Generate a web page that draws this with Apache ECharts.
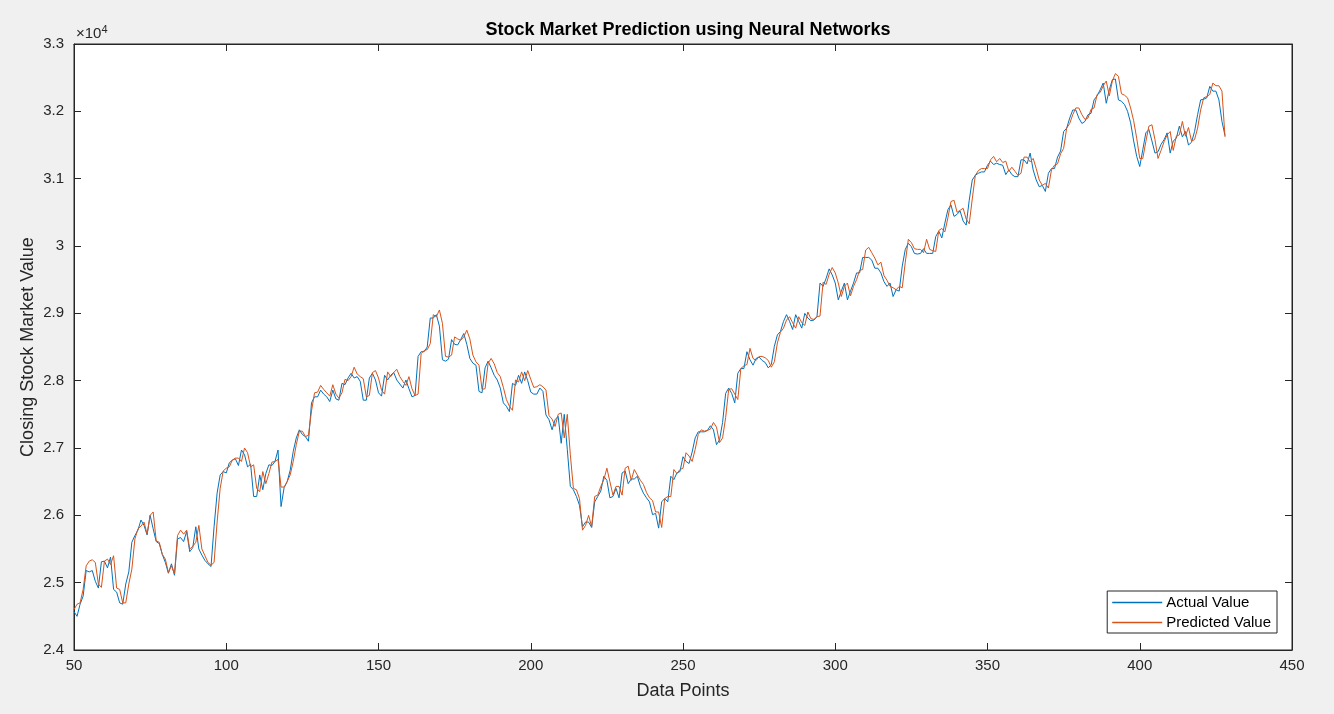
<!DOCTYPE html>
<html>
<head>
<meta charset="utf-8">
<script src="https://cdn.jsdelivr.net/npm/echarts@6/dist/echarts.min.js"></script>
<style>
html,body{margin:0;padding:0;background:#f0f0f0;}
#chart{width:1334px;height:714px;}
</style>
</head>
<body>
<div id="chart"></div>
<script>
const titleText = 'Stock Market Prediction using Neural Networks';
const xName = 'Data Points';
const yName = 'Closing Stock Market Value';
const seriesNames = ['Actual Value', 'Predicted Value'];
const firstPoint = 50;
const xTicks = [50, 100, 150, 200, 250, 300, 350, 400, 450];
const yTicks = [24000, 25000, 26000, 27000, 28000, 29000, 30000, 31000, 32000, 33000];

const actual = [
24570,24500,24680,24800,25180,25160,25180,25020,24920,25310,
25320,25220,25380,24900,24860,24700,24680,24980,25160,25600,
25700,25780,25930,25850,25710,26000,25800,25610,25580,25420,
25300,25140,25280,25110,25650,25670,25610,25760,25460,25520,
25830,25500,25410,25330,25280,25240,25830,26330,26600,26650,
26630,26780,26820,26840,26740,26970,26900,26720,26760,26280,
26280,26600,26380,26620,26750,26740,26800,26970,26130,26410,
26500,26670,26950,27150,27270,27200,27170,27100,27670,27760,
27760,27860,27800,27760,27690,27860,27730,27710,27960,27940,
28040,28110,28040,28060,27990,27710,27710,28040,28110,28010,
27820,27770,28080,28010,28080,28120,28010,27950,27890,28010,
27880,27760,27780,28360,28430,28430,28500,28930,28930,28980,
28810,28310,28290,28320,28610,28540,28530,28610,28700,28540,
28330,28260,28230,27840,27820,28190,28290,28190,28080,28010,
27890,27670,27620,27540,27960,27930,28080,27960,28130,28000,
27830,27800,27800,27890,27840,27490,27420,27270,27420,27470,
27070,27500,26980,26430,26380,26280,26150,25830,25900,25900,
25820,26200,26280,26360,26580,26520,26260,26280,26400,26260,
26630,26660,26470,26540,26540,26580,26430,26330,26260,26200,
26010,26030,25810,26200,26250,26200,26580,26530,26630,26650,
26870,26800,26770,26940,27150,27240,27240,27240,27260,27330,
27270,27050,27120,27380,27810,27890,27810,27670,28110,28180,
28180,28430,28310,28230,28330,28350,28300,28270,28190,28240,
28510,28680,28730,28880,28980,28880,28760,28980,28880,28780,
29000,28930,28890,28900,28950,29450,29400,29520,29660,29570,
29450,29200,29330,29450,29200,29330,29450,29600,29600,29830,
29830,29830,29790,29670,29670,29600,29470,29400,29450,29250,
29350,29330,29700,29950,30040,29990,29890,29880,29890,29960,
29890,29890,29890,30140,30220,30120,30340,30540,30610,30440,
30470,30520,30370,30310,30680,30980,31050,31080,31100,31100,
31200,31260,31210,31230,31210,31200,31060,31130,31060,31030,
31030,31280,31280,31220,31380,31130,30980,30880,30900,30810,
31080,31150,31150,31320,31410,31700,31750,31900,32020,32020,
31900,31820,31850,31950,31970,32170,32230,32320,32420,32120,
32320,32470,32480,32170,32150,32100,32000,31830,31560,31330,
31180,31430,31680,31730,31560,31380,31400,31510,31580,31680,
31380,31560,31600,31780,31620,31700,31500,31540,31700,31950,
32170,32180,32200,32370,32300,32300,32170,31850,31640
];

const predicted = [
24600,24680,24700,24900,25250,25320,25340,25300,24980,24930,
25320,25350,25270,25400,24920,24900,24700,24700,24980,25200,
25650,25800,25840,25900,25720,26000,26050,25620,25600,25420,
25350,25150,25250,25130,25700,25780,25720,25780,25500,25540,
25600,25850,25500,25400,25300,25260,25300,25900,26400,26660,
26700,26720,26820,26850,26850,26800,27000,26930,26720,26750,
26400,26350,26650,26470,26620,26790,26800,26830,26420,26420,
26500,26600,26800,27050,27250,27250,27170,27190,27550,27820,
27830,27930,27870,27820,27770,27940,27800,27740,27820,28020,
28000,28060,28200,28100,28060,28030,27760,27780,28120,28150,
28040,27860,27800,28130,28060,28120,28170,28060,27990,27930,
28060,27880,27780,27800,28400,28450,28460,28550,28980,28950,
29050,28850,28360,28350,28380,28650,28620,28600,28650,28750,
28620,28380,28280,28230,27870,27880,28260,28330,28250,28120,
28060,27900,27720,27620,27560,28010,27980,28130,28000,28150,
28020,27900,27910,27940,27910,27860,27480,27430,27320,27500,
27520,27150,27500,26900,26400,26380,26250,25780,25850,26000,
25830,26280,26300,26430,26530,26700,26500,26300,26430,26430,
26300,26700,26730,26520,26680,26600,26520,26460,26340,26260,
26220,26050,26050,25820,26250,26280,26280,26680,26620,26680,
26700,26930,26880,26800,26980,27200,27270,27250,27260,27280,
27380,27310,27080,27150,27450,27870,27880,27800,27720,28180,
28220,28240,28480,28330,28300,28360,28360,28340,28300,28200,
28280,28560,28720,28780,28900,28950,28860,28780,28950,28860,
28820,29020,28920,28910,28950,28960,29460,29430,29580,29680,
29600,29450,29250,29400,29450,29260,29400,29500,29640,29650,
29940,29980,29900,29820,29720,29760,29560,29490,29400,29380,
29350,29400,29380,29760,30100,30050,29960,29950,29950,29900,
30100,29950,29930,29920,30230,30260,30210,30420,30660,30680,
30500,30530,30560,30400,30330,30700,31050,31120,31150,31150,
31150,31280,31330,31250,31300,31240,31260,31110,31170,31110,
31050,31080,31320,31320,31250,31300,31150,30980,30900,30930,
30860,31130,31200,31220,31370,31450,31750,31820,31950,32050,
32050,31950,31880,31900,32030,32050,32250,32280,32380,32450,
32230,32450,32560,32520,32260,32240,32200,32050,31860,31600,
31300,31300,31550,31780,31800,31580,31300,31420,31550,31650,
31700,31420,31630,31650,31850,31630,31760,31560,31580,31750,
32020,32200,32220,32250,32420,32380,32380,32300,31620
];

const toPairs = arr => arr.map((v, i) => [firstPoint + i, v]);

const chart = echarts.init(document.getElementById('chart'), null, {renderer: 'canvas'});
const FONT = '"Liberation Sans", Arial, Helvetica, sans-serif';
const AX = '#262626';
const tickFmt = v => String(+(v / 10000).toFixed(2));

const baseX = {
  type: 'value', min: xTicks[0], max: xTicks[xTicks.length - 1], interval: 50,
  axisLine: {show: true, onZero: false, lineStyle: {color: AX, width: 1}},
  axisTick: {show: true, inside: true, length: 7, lineStyle: {color: AX}},
  splitLine: {show: false}
};
const baseY = {
  type: 'value', min: yTicks[0], max: yTicks[yTicks.length - 1], interval: 1000,
  axisLine: {show: true, onZero: false, lineStyle: {color: AX, width: 1}},
  axisTick: {show: true, inside: true, length: 7, lineStyle: {color: AX}},
  splitLine: {show: false}
};

chart.setOption({
  backgroundColor: '#f0f0f0',
  animation: false,
  title: {
    text: titleText, left: 683, top: 16, textAlign: 'center',
    textStyle: {fontFamily: FONT, fontSize: 18, fontWeight: 'bold', color: '#000'}
  },
  grid: {left: 74, right: 42, top: 44, bottom: 64, show: true, backgroundColor: '#ffffff', borderColor: AX, borderWidth: 1},
  xAxis: [
    Object.assign({}, baseX, {
      position: 'bottom', name: xName, nameLocation: 'middle', nameGap: 32,
      nameTextStyle: {fontFamily: FONT, fontSize: 18, color: AX},
      axisLabel: {show: true, fontFamily: FONT, fontSize: 15, color: AX, margin: 8}
    }),
    Object.assign({}, baseX, {position: 'top', axisLabel: {show: false}})
  ],
  yAxis: [
    Object.assign({}, baseY, {
      position: 'left', name: yName, nameLocation: 'middle', nameGap: 37, nameMoveOverlap: false,
      nameTextStyle: {fontFamily: FONT, fontSize: 18, color: AX},
      axisLabel: {show: true, fontFamily: FONT, fontSize: 15, color: AX, margin: 10, formatter: tickFmt}
    }),
    Object.assign({}, baseY, {position: 'right', axisLabel: {show: false}})
  ],
  legend: {
    orient: 'vertical', right: 57, bottom: 81,
    backgroundColor: '#ffffff', borderColor: AX, borderWidth: 1,
    padding: [4, 6, 3, 5], itemGap: 5, itemWidth: 50, itemHeight: 1.5,
    icon: 'rect',
    textStyle: {fontFamily: FONT, fontSize: 15, color: '#000', padding: [0, 0, 0, -1]},
    data: seriesNames
  },
  graphic: [{
    type: 'text', left: 76, top: 24,
    style: {
      text: '{a|×10}{b|4}',
      rich: {
        a: {fontFamily: FONT, fontSize: 15, fill: AX},
        b: {fontFamily: FONT, fontSize: 11, fill: AX, verticalAlign: 'top', padding: [0, 0, 8, 0]}
      }
    }
  }],
  series: [
    {name: seriesNames[0], type: 'line', data: toPairs(actual), showSymbol: false, symbol: 'none',
     lineStyle: {color: '#0072BD', width: 1}, itemStyle: {color: '#0072BD'}, z: 2},
    {name: seriesNames[1], type: 'line', data: toPairs(predicted), showSymbol: false, symbol: 'none',
     lineStyle: {color: '#D95319', width: 1}, itemStyle: {color: '#D95319'}, z: 3}
  ]
});
</script>
</body>
</html>
